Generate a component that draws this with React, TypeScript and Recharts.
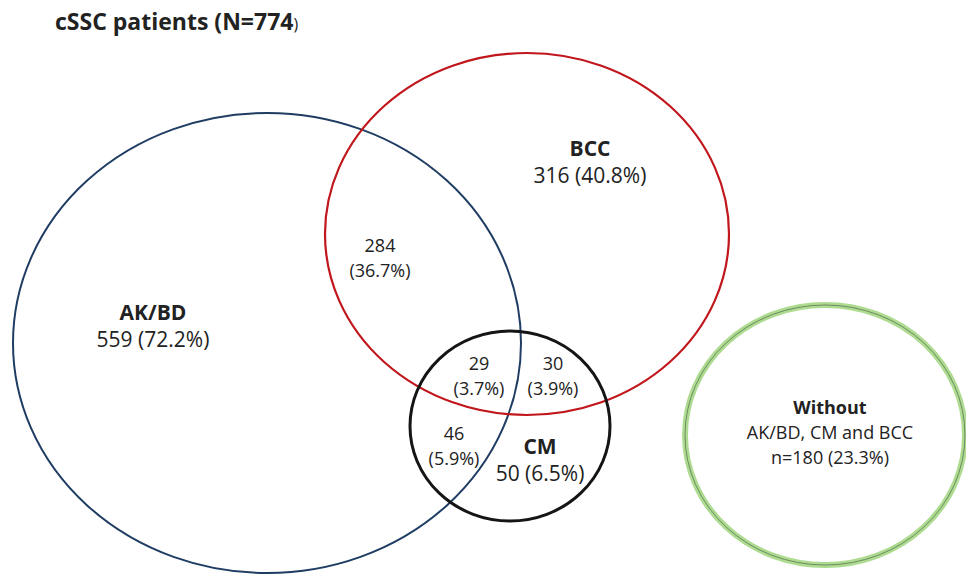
import { ScatterChart, Scatter, XAxis, YAxis } from 'recharts'

// page frame
const W = 966
const H = 574
const FONT = '"Open Sans", "DejaVu Sans", sans-serif'

// sets drawn as ellipses (centre + radii, in chart units)
const setNames = ['AK/BD', 'BCC', 'CM', 'Without']
const setCenterX = [267, 527, 510, 825]
const setCenterY = [343, 234, 426, 435]
const setRadiusX = [254, 202, 100, 140]
const setRadiusY = [230, 181, 95, 130]

// set labels
const setLabelNames = ['AK/BD', 'BCC', 'CM']
const setCounts = [559, 316, 50]
const setPcts = ['72.2', '40.8', '6.5']
const setLabelX = [153, 590, 540]
const setLabelY = [325, 161, 459]

// overlap region labels
const regionCounts = [284, 29, 30, 46]
const regionPcts = ['36.7', '3.7', '3.9', '5.9']
const regionX = [380, 479, 553, 454]
const regionY = [257, 375, 375, 445]

// patients without any of the three
const withoutLines = ['Without', 'AK/BD, CM and BCC', 'n=180 (23.3%)']
const withoutX = [830]
const withoutY = [432]

const strokeStyle: Record<string, { color: string; width: number }> = {
  'AK/BD': { color: '#1f3d63', width: 2 },
  BCC: { color: '#c0161c', width: 2.2 },
  CM: { color: '#151515', width: 3 },
  Without: { color: '#addc90', width: 6 },
}

const ellipses = setNames.map((name, i) => ({
  name,
  x: setCenterX[i],
  y: setCenterY[i],
  rx: setRadiusX[i],
  ry: setRadiusY[i],
}))

const labels = [
  ...setLabelNames.map((name, i) => ({
    x: setLabelX[i],
    y: setLabelY[i],
    lines: [name, `${setCounts[i]} (${setPcts[i]}%)`],
    boldFirst: true,
    size: 21,
    lh: 27,
  })),
  ...regionCounts.map((c, i) => ({
    x: regionX[i],
    y: regionY[i],
    lines: [String(c), `(${regionPcts[i]}%)`],
    boldFirst: false,
    size: 18,
    lh: 25,
  })),
  {
    x: withoutX[0],
    y: withoutY[0],
    lines: withoutLines,
    boldFirst: true,
    size: 18,
    lh: 25,
  },
]

// chart units map 1:1 onto pixels (no margins, hidden axes)
const kx = W / W
const ky = H / H

function EllipseShape(props: any) {
  const { cx, cy, payload } = props
  const st = strokeStyle[payload.name]
  const rx = payload.rx * kx
  const ry = payload.ry * ky
  if (payload.name === 'Without') {
    return (
      <g>
        <ellipse cx={cx} cy={cy} rx={rx} ry={ry} fill="none" stroke={st.color} strokeWidth={st.width} />
        <ellipse cx={cx} cy={cy} rx={rx} ry={ry} fill="none" stroke="#6f8a63" strokeWidth={1} />
      </g>
    )
  }
  return <ellipse cx={cx} cy={cy} rx={rx} ry={ry} fill="none" stroke={st.color} strokeWidth={st.width} />
}

function LabelShape(props: any) {
  const { cx, cy, payload } = props
  const n = payload.lines.length
  const top = cy - ((n - 1) * payload.lh) / 2
  return (
    <text textAnchor="middle" fontFamily={FONT} fontSize={payload.size} fill="#222">
      {payload.lines.map((line: string, i: number) => (
        <tspan
          key={i}
          x={cx}
          y={top + i * payload.lh}
          dominantBaseline="central"
          fontWeight={payload.boldFirst && i === 0 ? 700 : 400}
        >
          {line}
        </tspan>
      ))}
    </text>
  )
}

export default function App() {
  return (
    <div style={{ position: 'absolute', left: 0, top: 0, width: W, height: H, background: '#fff' }}>
      <div
        style={{
          position: 'absolute',
          left: 55,
          top: 5,
          fontFamily: FONT,
          fontSize: 23,
          fontWeight: 700,
          color: '#222',
          lineHeight: '32px',
          whiteSpace: 'nowrap',
        }}
      >
        cSSC patients (N=774<span style={{ fontWeight: 400, fontSize: 16 }}>)</span>
      </div>
      <ScatterChart width={W} height={H} margin={{ top: 0, right: 0, bottom: 0, left: 0 }}>
        <XAxis type="number" dataKey="x" domain={[0, W]} hide />
        <YAxis type="number" dataKey="y" domain={[0, H]} reversed hide />
        <Scatter data={ellipses} shape={EllipseShape} isAnimationActive={false} />
        <Scatter data={labels} shape={LabelShape} isAnimationActive={false} />
      </ScatterChart>
    </div>
  )
}
